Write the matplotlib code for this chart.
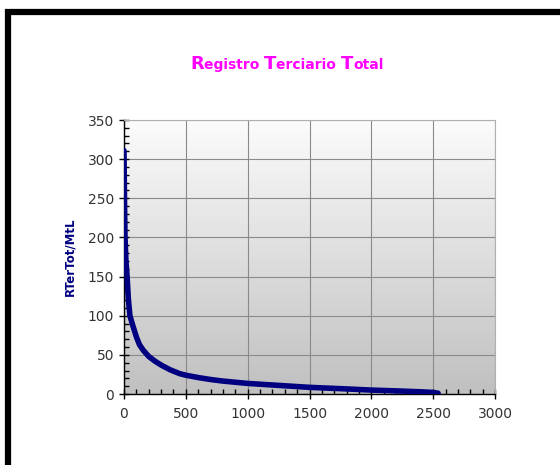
import numpy as np
import matplotlib
matplotlib.use("Agg")
import matplotlib.pyplot as plt
from matplotlib.patches import Rectangle
from matplotlib.ticker import MultipleLocator

# Cumulative ordering of the total tertiary register (rank vs value)
rank = [0, 2, 5, 8, 15, 25, 35, 48, 70, 100, 125, 155, 200, 250, 300, 372,
        450, 500, 600, 700, 800, 1000, 1200, 1500, 1800, 2000, 2200, 2400,
        2500, 2540]
rtertot = [311, 280, 235, 201, 172, 150, 122, 100, 88, 73, 63, 56, 48, 42,
           37, 31, 26, 24, 21, 18.5, 16.5, 13.5, 11.5, 8.5, 6.5, 5, 4, 2.8,
           2, 1]

title_parts = [("R", 13), ("egistro ", 10), ("T", 13), ("erciario ", 10),
               ("T", 13), ("otal", 10)]
ylabel = "RTerTot/MtL"
xticks = [0, 500, 1000, 1500, 2000, 2500, 3000]
yticks = [0, 50, 100, 150, 200, 250, 300, 350]

fig = plt.figure(figsize=(5.6, 4.65), dpi=100)
fig.patch.set_facecolor("white")

# black frame, open at right and bottom edges
fig.patches.append(Rectangle((8 / 560, -0.05), 1.1, (465 - 12) / 465 + 0.05,
                             transform=fig.transFigure, fill=False,
                             edgecolor="black", linewidth=4.5, zorder=10))

ax = fig.add_axes([124 / 560, 1 - 394 / 465, (495 - 124) / 560, (394 - 120) / 465])
ax.set_xlim(0, 3000)
ax.set_ylim(0, 350)

# vertical gradient background
grad = np.linspace(0, 1, 256).reshape(-1, 1)
cmap = matplotlib.colors.LinearSegmentedColormap.from_list(
    "bg", ["#c0c0c0", "#fcfcfc"])
ax.imshow(grad, extent=[0, 3000, 0, 350], origin="lower", aspect="auto",
          cmap=cmap, zorder=0)

ax.set_xticks(xticks)
ax.set_yticks(yticks)
ax.xaxis.set_minor_locator(MultipleLocator(100))
ax.yaxis.set_minor_locator(MultipleLocator(10))
ax.grid(True, which="major", color="#8a8a8a", linewidth=0.8, zorder=1)
ax.set_axisbelow(True)

ax.plot(rank, rtertot, color="#000080", linewidth=4, solid_capstyle="round",
        solid_joinstyle="round", zorder=3)

for s in ["top", "right"]:
    ax.spines[s].set_color("#b0b0b0")
for s in ["left", "bottom"]:
    ax.spines[s].set_color("black")
    ax.spines[s].set_linewidth(1.0)

ax.tick_params(which="major", direction="inout", length=7, width=1,
               labelsize=10, colors="black", labelcolor="#333333")
ax.tick_params(which="minor", direction="in", length=3.5, width=1)
ax.tick_params(axis="x", pad=6)

ax.set_ylabel(ylabel, color="#000080", fontsize=8.5, fontweight="bold", labelpad=8)

# title with enlarged initial capitals
fig.canvas.draw()
renderer = fig.canvas.get_renderer()
texts = []
for s, size in title_parts:
    texts.append(fig.text(0, 0, s, fontsize=size, fontweight="bold",
                          color="#ff00ff", va="baseline", ha="left"))
widths = [t.get_window_extent(renderer).width for t in texts]
total = sum(widths)
x = (287 - total / 2)
for t, w in zip(texts, widths):
    t.set_position((x / 560, 1 - 69 / 465))
    x += w

fig.savefig("out.png", dpi=100)
